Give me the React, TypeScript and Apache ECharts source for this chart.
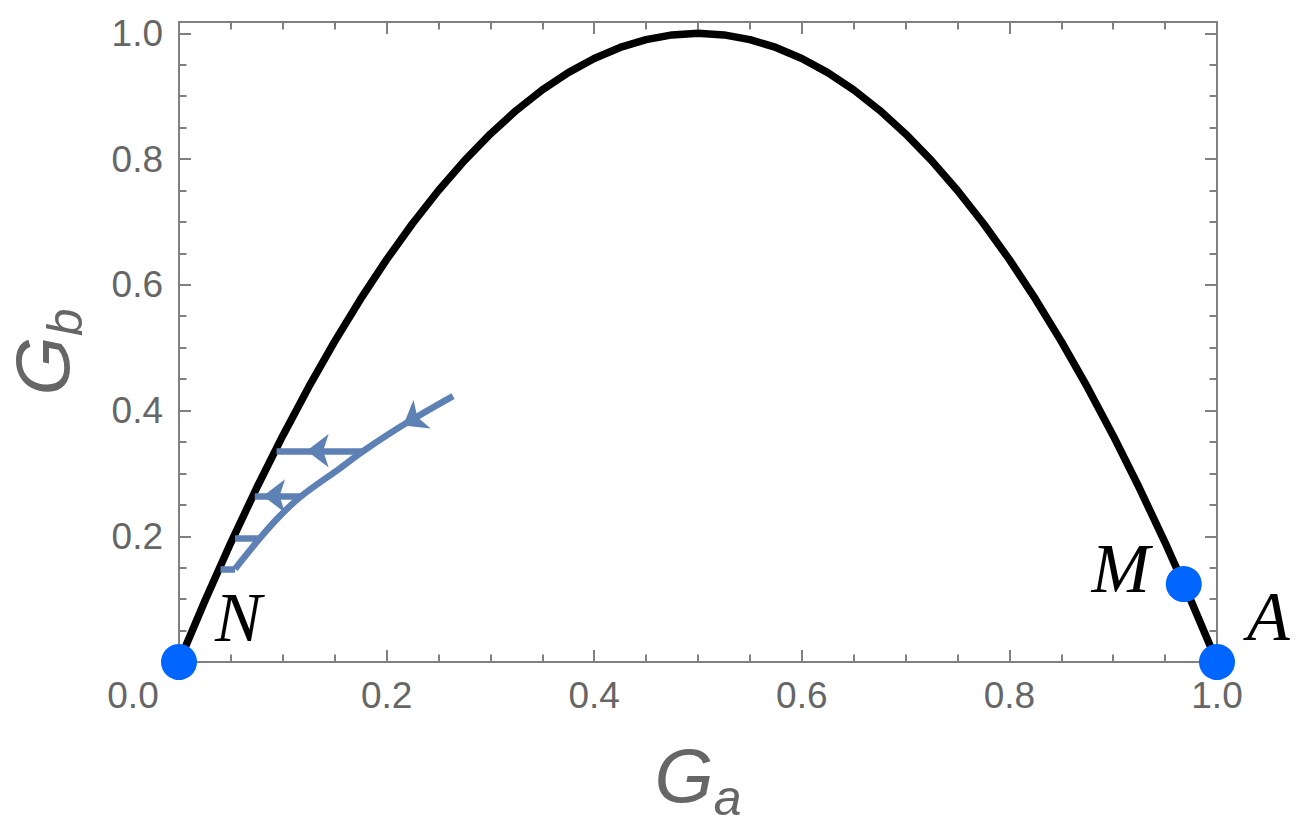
import { useEffect, useRef } from "react";
import * as echarts from "echarts";

// Boundary curve G_b against G_a
const curveGa = [
  0, 0.025, 0.05, 0.075, 0.1, 0.125, 0.15, 0.175, 0.2, 0.225, 0.25, 0.275, 0.3, 0.325, 0.35, 0.375, 0.4,
  0.425, 0.45, 0.475, 0.5, 0.525, 0.55, 0.575, 0.6, 0.625, 0.65, 0.675, 0.7, 0.725, 0.75, 0.775, 0.8,
  0.825, 0.85, 0.875, 0.9, 0.925, 0.95, 0.975, 1,
];
const curveGb = [
  0, 0.0975, 0.19, 0.2775, 0.36, 0.4375, 0.51, 0.5775, 0.64, 0.6975, 0.75, 0.7975, 0.84, 0.8775, 0.91,
  0.9375, 0.96, 0.9775, 0.99, 0.9975, 1.0, 0.9975, 0.99, 0.9775, 0.96, 0.9375, 0.91, 0.8775, 0.84,
  0.7975, 0.75, 0.6975, 0.64, 0.5775, 0.51, 0.4375, 0.36, 0.2775, 0.19, 0.0975, 0,
];

// Trajectory drifting toward N
const pathGa = [0.264, 0.219, 0.178, 0.155, 0.118, 0.097, 0.078, 0.054];
const pathGb = [0.423, 0.38, 0.336, 0.308, 0.264, 0.232, 0.197, 0.148];

// Horizontal jumps from the trajectory back to the boundary
const stepGb = [0.336, 0.264, 0.197, 0.148];
const stepFromGa = [0.178, 0.118, 0.078, 0.054];
const stepToGa = [0.094, 0.073, 0.054, 0.04];

// Arrowhead tips and their headings
const arrowGa = [0.216, 0.123, 0.081];
const arrowGb = [0.376, 0.336, 0.264];
const arrowAngle = [121, 90, 90];

// Fixed points
const pointNames = ["N", "M", "A"];
const pointGa = [0, 0.968, 1];
const pointGb = [0, 0.124, 0];

// Tick labels
const xTickLabels = ["0.0", "0.2", "0.4", "0.6", "0.8", "1.0"];
const yTickLabels = ["", "0.2", "0.4", "0.6", "0.8", "1.0"];

const FRAME = "#808080";
const TEXT = "#666666";
const BLUE = "#5E81B5";
const DOT = "#0066ff";
const SANS = "'Liberation Sans', Arial, sans-serif";
const SERIF = "'Liberation Serif', 'Times New Roman', serif";
const Y_MAX = 1.018;

const tickIndex = (v: number) => {
  const i = Math.round(v / 0.2);
  return Math.abs(v - i * 0.2) < 1e-6 ? i : -1;
};

const frameLine = { color: FRAME, width: 2 };

// Axis-title pieces: large italic G with a lowered subscript
const titleMain = { fontSize: 76, fontStyle: "italic", fontFamily: SANS, verticalAlign: "bottom", padding: [0, 0, 10, 0] };
const titleSub = { fontSize: 50, fontStyle: "italic", fontFamily: SANS, verticalAlign: "bottom" };

const nameRich = {
  g: { ...titleMain, color: TEXT },
  s: { ...titleSub, color: TEXT },
};
const graphicRich = {
  g: { ...titleMain, fill: TEXT },
  s: { ...titleSub, fill: TEXT },
};

export default function App() {
  const ref = useRef<HTMLDivElement | null>(null);

  useEffect(() => {
    if (!ref.current) return;
    const chart = echarts.init(ref.current, null, { renderer: "svg" });

    const majorX = (position: "bottom" | "top", labels: boolean) => ({
      type: "value",
      position,
      min: 0,
      max: 1,
      interval: 0.2,
      axisLine: { show: true, onZero: false, lineStyle: frameLine },
      axisTick: { show: true, inside: true, length: 12, lineStyle: frameLine },
      minorTick: { show: true, splitNumber: 4, length: 7.5, lineStyle: frameLine },
      splitLine: { show: false },
      minorSplitLine: { show: false },
      axisLabel: labels
        ? {
            show: true,
            margin: 15,
            fontSize: 37,
            fontFamily: SANS,
            color: TEXT,
            formatter: (v: number) => {
              const i = tickIndex(v);
              if (i < 0) return "";
              return i === 0 ? `{first|${xTickLabels[i]}}` : xTickLabels[i];
            },
            rich: {
              first: { fontSize: 37, fontFamily: SANS, color: TEXT, padding: [0, 92, 0, 0] },
            },
          }
        : { show: false },
      ...(labels
        ? {
            name: "{g|G}{s|a}",
            nameLocation: "middle",
            nameGap: 75,
            nameTextStyle: { rich: nameRich },
          }
        : {}),
    });

    const yAxisDef = (position: "left" | "right", minor: boolean, labels: boolean) => ({
      type: "value",
      position,
      min: 0,
      max: Y_MAX,
      interval: minor ? 0.05 : 0.2,
      axisLine: { show: !minor, onZero: false, lineStyle: frameLine },
      axisTick: { show: true, inside: true, length: minor ? 7.5 : 12, lineStyle: frameLine },
      splitLine: { show: false },
      axisLabel: labels
        ? {
            show: true,
            margin: 16,
            fontSize: 37,
            fontFamily: SANS,
            color: TEXT,
            formatter: (v: number) => {
              const i = tickIndex(v);
              if (i < 0 || i >= yTickLabels.length) return "";
              return yTickLabels[i];
            },
          }
        : { show: false },
    });

    const pointLabels = [
      { position: "right", offset: [18, -45] },
      { position: "left", offset: [-16, -16] },
      { position: "right", offset: [12, -46] },
    ];

    chart.setOption({
      animation: false,
      backgroundColor: "#ffffff",
      grid: { left: 179, right: 85, top: 22, bottom: 165, containLabel: false },
      xAxis: [majorX("bottom", true), majorX("top", false)],
      yAxis: [
        yAxisDef("left", false, true),
        yAxisDef("left", true, false),
        yAxisDef("right", false, false),
        yAxisDef("right", true, false),
      ],
      graphic: [
        {
          // vertical axis title, reading upward
          type: "text",
          x: 47,
          y: 352,
          rotation: Math.PI / 2,
          style: {
            text: "{g|G}{s|b}",
            rich: graphicRich,
            fill: TEXT,
            align: "center",
            verticalAlign: "middle",
          },
        },
      ],
      series: [
        {
          type: "line",
          data: curveGa.map((x, i) => [x, curveGb[i]]),
          showSymbol: false,
          symbol: "none",
          clip: false,
          lineStyle: { color: "#000000", width: 7.5 },
          z: 2,
        },
        {
          type: "line",
          data: pathGa.map((x, i) => [x, pathGb[i]]),
          showSymbol: false,
          symbol: "none",
          smooth: 0.35,
          lineStyle: { color: BLUE, width: 6.5 },
          z: 3,
        },
        {
          type: "lines",
          coordinateSystem: "cartesian2d",
          data: stepGb.map((y, i) => ({
            coords: [
              [stepFromGa[i], y],
              [stepToGa[i], y],
            ],
          })),
          lineStyle: { color: BLUE, width: 6.5, opacity: 1, curveness: 0 },
          z: 3,
        },
        {
          type: "scatter",
          symbol: "arrow",
          symbolSize: [25, 22],
          data: arrowGa.map((x, i) => ({
            value: [x, arrowGb[i]],
            symbolRotate: arrowAngle[i],
          })),
          itemStyle: { color: BLUE, opacity: 1 },
          z: 4,
        },
        {
          type: "scatter",
          symbol: "circle",
          symbolSize: 36,
          clip: false,
          data: pointGa.map((x, i) => ({
            value: [x, pointGb[i]],
            label: {
              show: true,
              formatter: pointNames[i],
              position: pointLabels[i].position,
              distance: 0,
              offset: pointLabels[i].offset,
              fontSize: 70,
              fontStyle: "italic",
              fontFamily: SERIF,
              color: "#000000",
            },
          })),
          itemStyle: { color: DOT, opacity: 1 },
          z: 5,
        },
      ],
    });

    return () => chart.dispose();
  }, []);

  return (
    <div
      ref={ref}
      style={{ position: "absolute", left: 0, top: 0, width: 1302, height: 828, background: "#fff" }}
    />
  );
}
